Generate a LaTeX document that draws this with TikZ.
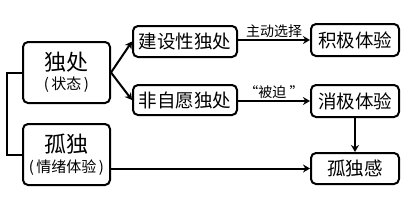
\documentclass[tikz,border=0pt]{standalone}
\usepackage{fontspec}
\setmainfont{Noto Sans CJK SC}
\usetikzlibrary{arrows.meta}
\begin{document}
\begin{tikzpicture}[x=1pt,y=-1pt,
  box/.style={draw=black,line width=2pt,rounded corners=5pt,inner sep=0pt,align=center},
  conn/.style={line width=2pt,-{Stealth[length=7pt,width=8pt]}},
  big/.style={font=\fontsize{18.5}{22}\selectfont},
  lbl/.style={font=\fontsize{14}{16}\selectfont,inner sep=1.5pt}]
\useasboundingbox[fill=white] (0,0) rectangle (415,207);
\node[box,minimum width=87pt,minimum height=61pt] (duchu) at (66.5,72.5)
  {{\fontsize{22}{26}\selectfont 独处}\\[4pt]{\fontsize{15}{17}\selectfont (\,状态\,)}};
\node[box,minimum width=87pt,minimum height=61pt] (gudu) at (66.5,154.5)
  {{\fontsize{22}{26}\selectfont 孤独}\\[4pt]{\fontsize{15}{17}\selectfont (\,情绪体验\,)}};
\node[box,big,minimum width=104pt,minimum height=31pt] (jsx) at (185,41.5) {建设性独处};
\node[box,big,minimum width=104pt,minimum height=30pt] (fzy) at (185,100) {非自愿独处};
\node[box,big,minimum width=88pt,minimum height=32pt] (jj) at (355,40) {积极体验};
\node[box,big,minimum width=88pt,minimum height=32pt] (xj) at (355,101) {消极体验};
\node[box,big,minimum width=88pt,minimum height=31pt] (gdg) at (355,168.5) {孤独感};
\draw[line width=2pt] (duchu.west) -- ++(-15,0) |- (gudu.west);
\draw[conn] (duchu.east) -- (jsx.west);
\draw[conn] (duchu.east) -- (fzy.west);
\draw[conn] (jsx.east |- jj.west) -- node[lbl,above] (l1) {主动选择} (jj.west);
\draw[conn] (fzy.east |- xj.west) -- node[lbl,above] (l2) {“被迫 ”} (xj.west);
\draw[conn] (xj.south) -- (gdg.north);
\draw[conn] (gudu.east |- gdg.west) -- (gdg.west);
\end{tikzpicture}
\end{document}
